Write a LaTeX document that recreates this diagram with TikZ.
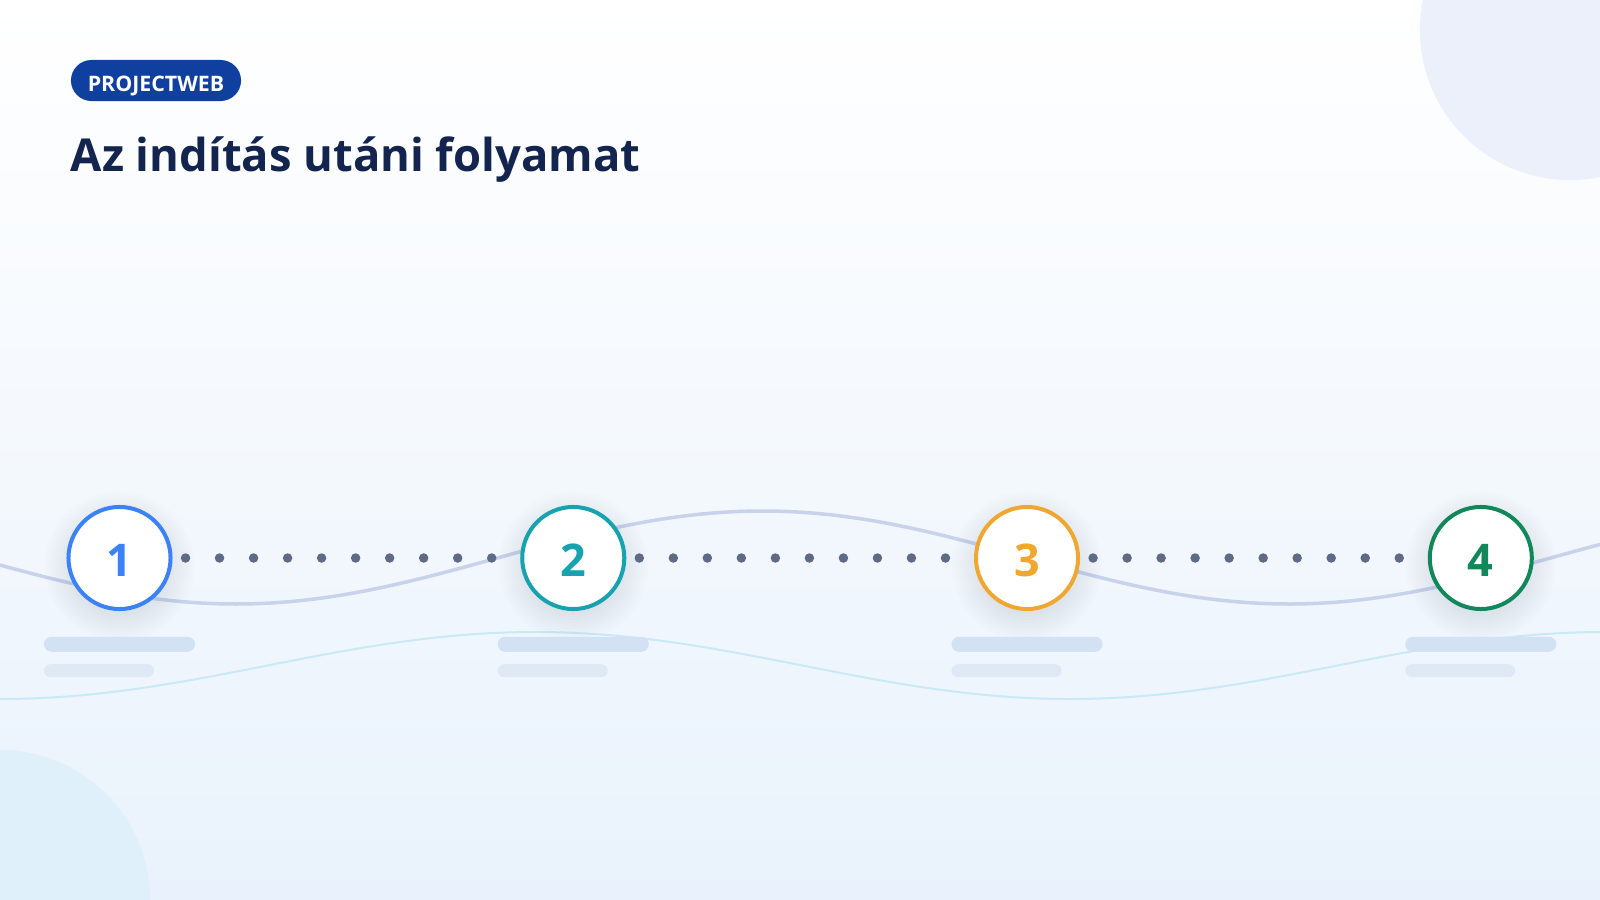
\documentclass[tikz,border=0pt]{standalone}
\usepackage{fontspec}
\setmainfont{Open Sans}
\usetikzlibrary{positioning}
\definecolor{ink}{HTML}{13254F}
\definecolor{badge}{HTML}{0F3F9F}
\definecolor{bgB}{HTML}{E9F2FC}
\definecolor{decoA}{HTML}{ECF0FA}
\definecolor{decoB}{HTML}{DFF0FB}
\definecolor{waveA}{HTML}{C8D2EA}
\definecolor{waveB}{HTML}{C9E9F5}
\definecolor{dotc}{HTML}{5F6A84}
\definecolor{cA}{HTML}{3B82F6}
\definecolor{cB}{HTML}{17A2AF}
\definecolor{cC}{HTML}{F0A732}
\definecolor{cD}{HTML}{12885A}
\definecolor{barA}{HTML}{D2E1F3}
\definecolor{barB}{HTML}{DFE9F6}
\definecolor{shade}{HTML}{3A4A6B}
\pgfdeclarelayer{bg}
\pgfsetlayers{bg,main}
\tikzset{ring/.style={circle,draw=#1,fill=white,line width=0.04cm,minimum size=1.02cm,
    inner sep=0pt,text=#1,text height=10.6pt,text depth=0pt,
    font=\bfseries\fontsize{12.8}{14}\selectfont},
  bar/.style={fill=barA,minimum width=1.51cm,minimum height=0.15cm,
    rounded corners=0.075cm,inner sep=0pt},
  subbar/.style={fill=barB,minimum width=1.1cm,minimum height=0.13cm,
    rounded corners=0.065cm,inner sep=0pt},
  dots/.style={draw=dotc,line width=0.095cm,line cap=round,
    dash pattern=on 0pt off 0.34cm,dash phase=0.02cm},
  halo/.style={fill=shade,opacity=0.009},
  tag/.style={fill=badge,text=white,rounded corners=0.205cm,minimum width=1.7cm,
    minimum height=0.41cm,inner sep=0pt,text height=6.5pt,text depth=0pt,
    font=\bfseries\fontsize{6.07}{7}\selectfont}}

\begin{document}
\begin{tikzpicture}[x=0.01cm,y=-0.01cm]
\useasboundingbox (0,0) rectangle (1600,900);
\node [tag] (t) at (156,80.5) {PROJECTWEB};
\node [anchor=base west,inner sep=0pt,text=ink,font=\bfseries\fontsize{12.9}{15}\selectfont]
  (h) at (70,171) {Az indítás utáni folyamat};
\node [ring=cA] (a) at (119.5,558) {1};
\node [ring=cB,right=3.475cm of a] (b) {2};
\node [ring=cC,right=3.475cm of b] (c) {3};
\node [ring=cD,right=3.475cm of c] (d) {4};
\node [bar,below=0.25cm of a] (p) {};
\node [bar,below=0.25cm of b] (q) {};
\node [bar,below=0.25cm of c] (r) {};
\node [bar,below=0.25cm of d] (s) {};
\node [subbar,below=0.11cm of p.south west,anchor=north west] (p2) {};
\node [subbar,below=0.11cm of q.south west,anchor=north west] (q2) {};
\node [subbar,below=0.11cm of r.south west,anchor=north west] (r2) {};
\node [subbar,below=0.11cm of s.south west,anchor=north west] (s2) {};
\begin{pgfonlayer}{bg}
\fill [top color=white,bottom color=bgB] (0,0) rectangle (1600,900);
\fill [decoA] (1570,30) circle [radius=1.5cm];
\fill [decoB] (0,900) circle [radius=1.5cm];
\draw [waveA,line width=0.035cm] plot [domain=0:1600,samples=120,smooth]
  (\x,{557.5+46.5*cos(0.34188*(\x-236))});
\draw [waveB,line width=0.02cm] plot [domain=0:1600,samples=120,smooth]
  (\x,{665.5+33.5*cos(0.33645*(\x-1070))});
\foreach \n in {a,b,c,d}
  \foreach \r in {48,51,...,75}
    \fill [halo] ([yshift=-0.08cm]\n.center) circle [radius=\r*0.01cm];
\draw [dots] (a.center) -- (b.center);
\draw [dots] (b.center) -- (c.center);
\draw [dots] (c.center) -- (d.center);
\end{pgfonlayer}
\end{tikzpicture}
\end{document}
